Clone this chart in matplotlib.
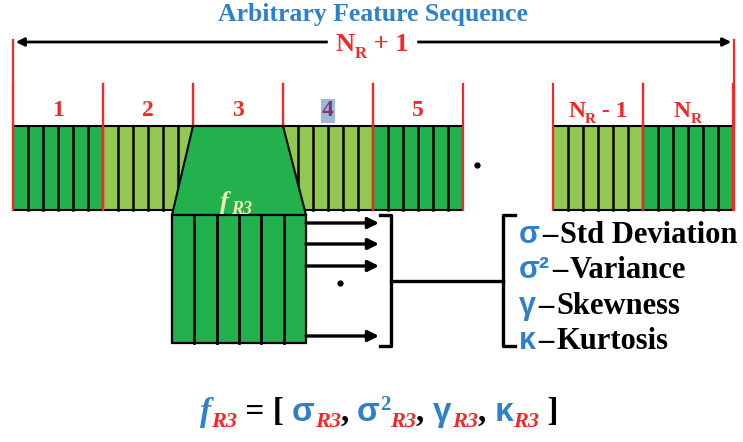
import matplotlib
matplotlib.use("Agg")
import matplotlib.pyplot as plt
from matplotlib.patches import Rectangle, Polygon, FancyArrowPatch

# ---------------- data ----------------
title = "Arbitrary Feature Sequence"
span_label = ["N", "R", " + 1"]
segment_labels = ["1", "2", "3", "4", "5", "N_R - 1", "N_R"]
segment_left = [13, 103, 193, 283, 373, 553, 643]
segment_colors = ["dark", "light", "dark", "light", "dark", "light", "dark"]
stripes_per_segment = 6
stat_symbols = ["σ", "σ²", "γ", "κ"]
stat_names = ["Std Deviation", "Variance", "Skewness", "Kurtosis"]
arrow_rows = [223, 244, 266, 336]

DARK = "#22B14C"
LIGHT = "#92C850"
RED = "#EE2A2A"
BLUE = "#2F80C8"
SERIF = "Liberation Serif"
GREEK = "Liberation Sans"

W, H = 743, 442
fig = plt.figure(figsize=(W / 100, H / 100), dpi=100)
ax = fig.add_axes([0, 0, 1, 1])
ax.set_xlim(0, W)
ax.set_ylim(H, 0)
ax.axis("off")
fig.patch.set_facecolor("white")
renderer = fig.canvas.get_renderer()

seg_w = 90
bar_top, bar_bot = 126, 210

# title
ax.text(373, 14, title, color=BLUE, fontsize=18.5, fontweight="bold",
        family=SERIF, ha="center", va="center")

# span arrow
ax.add_patch(FancyArrowPatch((13, 42), (734, 42), arrowstyle="<|-|>",
                             mutation_scale=12, lw=2, color="black", zorder=3))
# outer red lines
ax.plot([13, 13], [40, bar_bot], color=RED, lw=1.6, zorder=2)
ax.plot([734, 734], [40, bar_bot], color=RED, lw=1.6, zorder=2)


def rich(x, y, parts, measure_only=False):
    """parts: list of (text, dict(color, size, weight, style, family, dy, gap))"""
    x0 = x
    texts = []
    for s, p in parts:
        t = ax.text(x, y + p.get("dy", 0), s, color=p.get("color", "black"),
                    fontsize=p.get("size", 16), fontweight=p.get("weight", "bold"),
                    fontstyle=p.get("style", "normal"), family=p.get("family", SERIF),
                    ha="left", va="baseline", zorder=p.get("z", 6))
        bb = t.get_window_extent(renderer)
        x += bb.width + p.get("gap", 0)
        texts.append(t)
    if measure_only:
        for t in texts:
            t.remove()
    return x - x0


# N_R + 1 label with white background
nr_parts = [(span_label[0], dict(color=RED, size=19)),
            (span_label[1], dict(color=RED, size=12, dy=7)),
            (span_label[2], dict(color=RED, size=19))]
wid = rich(0, 0, nr_parts, measure_only=True)
ax.add_patch(Rectangle((372 - wid / 2 - 8, 30), wid + 16, 28, color="white", zorder=4))
rich(372 - wid / 2, 51, nr_parts)

# segments
for lab, left, col in zip(segment_labels, segment_left, segment_colors):
    fc = DARK if col == "dark" else LIGHT
    ax.add_patch(Rectangle((left, bar_top), seg_w, bar_bot - bar_top, facecolor=fc,
                           edgecolor="black", lw=1.5, zorder=1))
    sw = seg_w / stripes_per_segment
    for k in range(1, stripes_per_segment):
        ax.plot([left + k * sw] * 2, [bar_top, bar_bot], color="black", lw=1.8, zorder=1.5)
    ax.plot([left, left], [84, bar_bot], color=RED, lw=1.6, zorder=2)
    ax.plot([left + seg_w] * 2, [84, bar_bot], color=RED, lw=1.6, zorder=2)
    cx = left + seg_w / 2
    if lab.startswith("N_R"):
        rest = lab[3:]
        parts = [("N", dict(color=RED, size=17)), ("R", dict(color=RED, size=11, dy=6))]
        if rest:
            parts.append((rest, dict(color=RED, size=17)))
        w = rich(0, 0, parts, measure_only=True)
        rich(cx - w / 2, 117, parts)
    elif lab == "4":
        ax.text(cx, 111, lab, color="#7A3A6A", fontsize=17, fontweight="bold", family=SERIF,
                ha="center", va="center", zorder=6,
                bbox=dict(boxstyle="square,pad=0.05", facecolor="#9FB8DA", edgecolor="none"))
    else:
        ax.text(cx, 111, lab, color=RED, fontsize=17, fontweight="bold", family=SERIF,
                ha="center", va="center", zorder=6)

# dots
ax.plot([477], [165], "o", color="black", ms=3.5, zorder=6)
ax.plot([340], [283], "o", color="black", ms=3.5, zorder=6)

# trapezoid over segment 3
seg3 = segment_left[2]
rect_l, rect_r = 172, 306
trap = Polygon([(seg3, bar_top), (seg3 + seg_w, bar_top), (rect_r, 215), (rect_l, 215)],
               closed=True, facecolor=DARK, edgecolor="black", lw=1.5, zorder=3)
ax.add_patch(trap)
ax.plot([seg3, seg3 + seg_w], [bar_top, bar_top], color="black", lw=1.5, zorder=3.1)
ax.text(224, 209, "f", color="#EEF3B0", fontsize=19, fontstyle="italic", fontweight="bold",
        family=SERIF, ha="center", va="baseline", zorder=6)
ax.text(231, 214, "R3", color="#EEF3B0", fontsize=13, fontstyle="italic", fontweight="bold",
        family=SERIF, ha="left", va="baseline", zorder=6)

# expanded window rectangle
ax.add_patch(Rectangle((rect_l, 215), rect_r - rect_l, 343 - 215, facecolor=DARK,
                       edgecolor="black", lw=1.6, zorder=3))
rw = (rect_r - rect_l) / stripes_per_segment
for k in range(1, stripes_per_segment):
    ax.plot([rect_l + k * rw] * 2, [215, 343], color="black", lw=2.0, zorder=3.2)

# arrows
for yy in arrow_rows:
    ax.add_patch(FancyArrowPatch((rect_r, yy), (379, yy), arrowstyle="-|>",
                                 mutation_scale=16, lw=2.4, color="black", zorder=4,
                                 shrinkA=0, shrinkB=0))

# brackets
ax.plot([380, 391, 391, 380], [215, 215, 346, 346], color="black", lw=2.4,
        solid_joinstyle="round", zorder=4)
ax.plot([391, 503], [281, 281], color="black", lw=2.4, zorder=4)
ax.plot([515, 503, 503, 515], [215, 215, 346, 346], color="black", lw=2.4,
        solid_joinstyle="round", zorder=4)

# stat list
stat_y = [243, 278, 314, 349]
for sym, name, yy in zip(stat_symbols, stat_names, stat_y):
    rich(519, yy, [(sym, dict(color=BLUE, size=22, family=GREEK, gap=2)),
                   ("–", dict(color="black", size=22, gap=3)),
                   (name, dict(color="black", size=22))])

# bottom formula
M, S = 24, 16
fparts = [("f", dict(color=BLUE, size=M, style="italic")),
          ("R3", dict(color=RED, size=S, style="italic", dy=6)),
          (" = [ ", dict(color="black", size=M)),
          ("σ", dict(color=BLUE, size=M, family=GREEK)),
          ("R3", dict(color=RED, size=S, style="italic", dy=6)),
          (", ", dict(color="black", size=M)),
          ("σ", dict(color=BLUE, size=M, family=GREEK)),
          ("2", dict(color=BLUE, size=15, dy=-11)),
          ("R3", dict(color=RED, size=S, style="italic", dy=6)),
          (", ", dict(color="black", size=M)),
          ("γ", dict(color=BLUE, size=M, family=GREEK)),
          ("R3", dict(color=RED, size=S, style="italic", dy=6)),
          (", ", dict(color="black", size=M)),
          ("κ", dict(color=BLUE, size=M, family=GREEK)),
          ("R3", dict(color=RED, size=S, style="italic", dy=6)),
          (" ]", dict(color="black", size=M))]
fw = rich(0, 0, fparts, measure_only=True)
rich(379 - fw / 2, 421, fparts)

fig.savefig("out.png", dpi=100, facecolor="white")
